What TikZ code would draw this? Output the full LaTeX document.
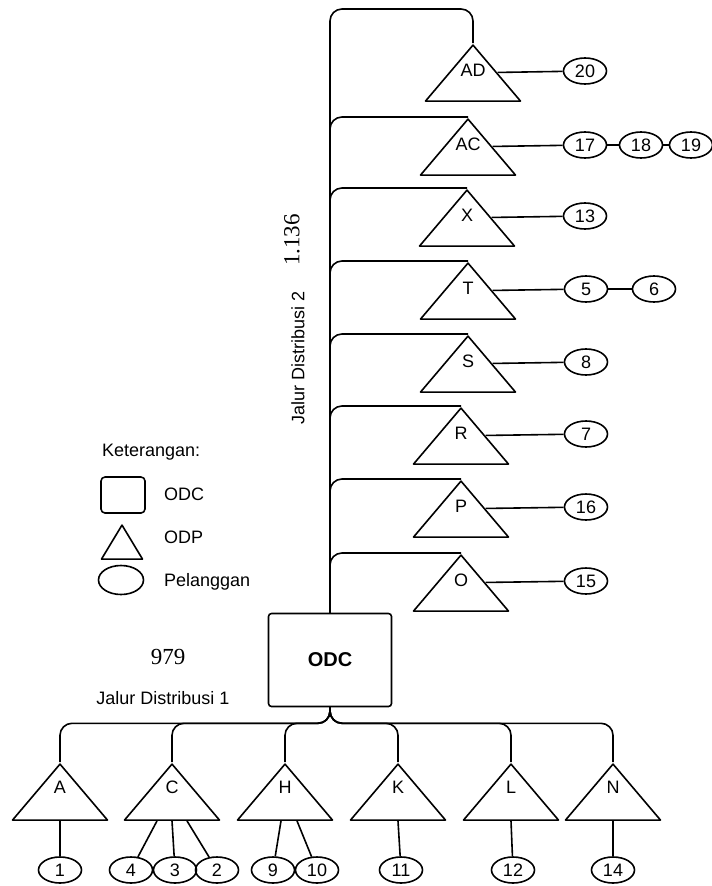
\documentclass[tikz,border=0pt]{standalone}
\usepackage{fontspec}
\setmainfont{Liberation Sans}
\newfontfamily\serifnum{Liberation Serif}
\usetikzlibrary{shapes.geometric,calc}

\begin{document}
\begin{tikzpicture}[x=1pt,y=-1pt,line width=1.6pt,line join=round,
    every node/.style={font=\fontsize{18}{20}\selectfont},
    odp/.style={draw,isosceles triangle,isosceles triangle stretches,shape border rotate=90,
      minimum width=95pt,minimum height=56pt,inner sep=0pt,anchor=apex},
    plg/.style={draw,ellipse,minimum width=43pt,minimum height=26pt,inner sep=0pt},
    jalur/.style={rounded corners=12pt}]
    \useasboundingbox (0,0) rectangle (712,886);
    % ODC
    \node[draw,rounded corners=3pt,minimum width=123pt,minimum height=93pt,
      font=\fontsize{20}{22}\selectfont\bfseries] (odc) at (330,660) {ODC};
    % jalur distribusi 2
    \node[odp] (AD) at (473,43) {};
    \node[odp] (AC) at (468,117) {};
    \node[odp] (X) at (467,188) {};
    \node[odp] (T) at (468,261) {};
    \node[odp] (S) at (468,334) {};
    \node[odp] (R) at (461,406) {};
    \node[odp] (P) at (461,479) {};
    \node[odp] (O) at (461,553) {};
    \node (lAD) at ($(AD.apex)+(0,27)$) {AD};
    \node (lAC) at ($(AC.apex)+(0,27)$) {AC};
    \node (lX) at ($(X.apex)+(0,27)$) {X};
    \node (lT) at ($(T.apex)+(0,27)$) {T};
    \node (lS) at ($(S.apex)+(0,27)$) {S};
    \node (lR) at ($(R.apex)+(0,27)$) {R};
    \node (lP) at ($(P.apex)+(0,27)$) {P};
    \node (lO) at ($(O.apex)+(0,27)$) {O};
    \node[plg] (c20) at (585,71) {20};
    \node[plg] (c17) at (585,145) {17};
    \node[plg] (c18) at (641,145) {18};
    \node[plg] (c19) at (691,145) {19};
    \node[plg] (c13) at (585,216) {13};
    \node[plg] (c5) at (586,289) {5};
    \node[plg] (c6) at (654,289) {6};
    \node[plg] (c8) at (586,362) {8};
    \node[plg] (c7) at (586,434) {7};
    \node[plg] (c16) at (586,507) {16};
    \node[plg] (c15) at (586,581) {15};
    % jalur distribusi 1
    \node[odp] (A) at (60,762) {};
    \node[odp] (C) at (172,762) {};
    \node[odp] (H) at (285,762) {};
    \node[odp] (K) at (398,762) {};
    \node[odp] (L) at (511,762) {};
    \node[odp] (N) at (613,762) {};
    \node (lA) at ($(A.apex)+(0,25)$) {A};
    \node (lC) at ($(C.apex)+(0,25)$) {C};
    \node (lH) at ($(H.apex)+(0,25)$) {H};
    \node (lK) at ($(K.apex)+(0,25)$) {K};
    \node (lL) at ($(L.apex)+(0,25)$) {L};
    \node (lN) at ($(N.apex)+(0,25)$) {N};
    \node[plg] (c1) at (60,870) {1};
    \node[plg] (c4) at (131,870) {4};
    \node[plg] (c3) at (175,870) {3};
    \node[plg] (c2) at (217,870) {2};
    \node[plg] (c9) at (273,870) {9};
    \node[plg] (c10) at (317,870) {10};
    \node[plg] (c11) at (401,870) {11};
    \node[plg] (c12) at (513,870) {12};
    \node[plg] (c14) at (613,870) {14};
    % keterangan
    \node[anchor=west] (ket) at (98,452) {Keterangan:};
    \node[draw,rounded corners=4pt,minimum width=44pt,minimum height=36pt] (lgodc) at (123,495) {};
    \node[anchor=west] (tlgodc) at (160,494) {ODC};
    \node[draw,isosceles triangle,isosceles triangle stretches,shape border rotate=90,
      minimum width=41pt,minimum height=34pt,inner sep=0pt,anchor=apex] (lgodp) at (122,523) {};
    \node[anchor=west] (tlgodp) at (160,537) {ODP};
    \node[draw,ellipse,minimum width=45pt,minimum height=29pt] (lgplg) at (121,580) {};
    \node[anchor=west] (tlgplg) at (160,582) {Pelanggan};
    \node[font=\serifnum\fontsize{23}{25}\selectfont] (n979) at (168,657) {979};
    \node (jd1) at (163,698) {Jalur Distribusi 1};
    \node[rotate=90] (jd2) at (298,358) {Jalur Distribusi 2};
    \node[rotate=90,font=\serifnum\fontsize{23}{25}\selectfont] (n1136) at (292,240) {1.136};
    % kabel
    \draw[jalur] (odc.north) |- ($(AD.apex)+(0,-34)$) -- (AD.apex);
    \draw[jalur] (odc.north) |- (AC.apex);
    \draw[jalur] (odc.north) |- (X.apex);
    \draw[jalur] (odc.north) |- (T.apex);
    \draw[jalur] (odc.north) |- (S.apex);
    \draw[jalur] (odc.north) |- (R.apex);
    \draw[jalur] (odc.north) |- (P.apex);
    \draw[jalur] (odc.north) |- (O.apex);
    \draw[jalur] (odc.south) -- ++(0,16) -| (A.apex);
    \draw[jalur] (odc.south) -- ++(0,16) -| (C.apex);
    \draw[jalur] (odc.south) -- ++(0,16) -| (H.apex);
    \draw[jalur] (odc.south) -- ++(0,16) -| (K.apex);
    \draw[jalur] (odc.south) -- ++(0,16) -| (L.apex);
    \draw[jalur] (odc.south) -- ++(0,16) -| (N.apex);
    \draw ($(AD.apex)!.5!(AD.right corner)$) -- (c20);
    \draw ($(AC.apex)!.5!(AC.right corner)$) -- (c17);
    \draw (c17) -- (c18);
    \draw (c18) -- (c19);
    \draw ($(X.apex)!.5!(X.right corner)$) -- (c13);
    \draw ($(T.apex)!.5!(T.right corner)$) -- (c5);
    \draw (c5) -- (c6);
    \draw ($(S.apex)!.5!(S.right corner)$) -- (c8);
    \draw ($(R.apex)!.5!(R.right corner)$) -- (c7);
    \draw ($(P.apex)!.5!(P.right corner)$) -- (c16);
    \draw ($(O.apex)!.5!(O.right corner)$) -- (c15);
    \draw (A.lower side) -- (c1);
    \draw ($(C.lower side)+(-15,0)$) -- (c4);
    \draw (C.lower side) -- (c3);
    \draw ($(C.lower side)+(15,0)$) -- (c2);
    \draw ($(H.lower side)+(-4,0)$) -- (c9);
    \draw ($(H.lower side)+(12,0)$) -- (c10);
    \draw (K.lower side) -- (c11);
    \draw (L.lower side) -- (c12);
    \draw (N.lower side) -- (c14);
\end{tikzpicture}
\end{document}
